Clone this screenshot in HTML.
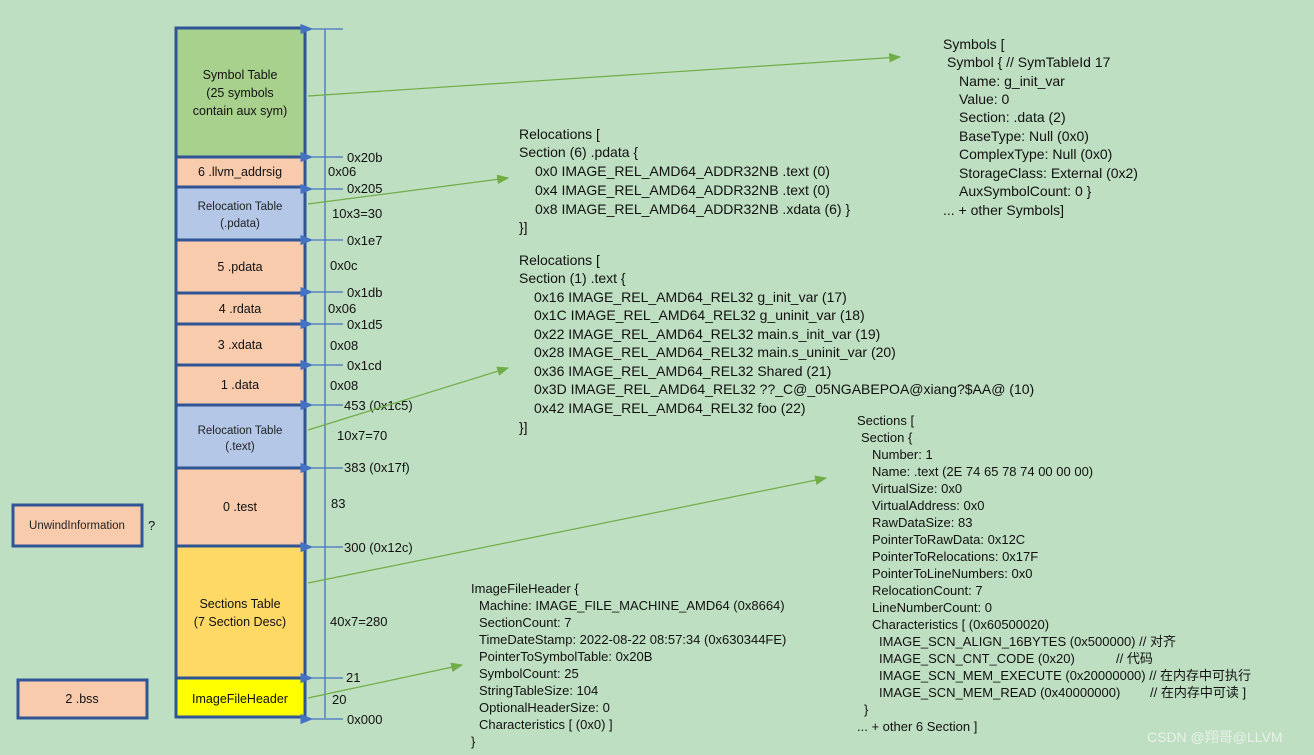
<!DOCTYPE html>
<html><head><meta charset="utf-8"><style>
html,body{margin:0;padding:0;background:#bfdfc2;}
svg{display:block;font-family:"Liberation Sans","Noto Sans CJK SC",sans-serif;}
.b{font-size:12.5px;fill:#111;text-anchor:middle}
.s{font-size:11.5px;fill:#222;text-anchor:middle}
.l{font-size:13px;fill:#111}
.t{font-size:14px;fill:#111}
.u{font-size:13px;fill:#111}
</style></head><body>
<svg width="1314" height="755" viewBox="0 0 1314 755" xmlns="http://www.w3.org/2000/svg">
<defs>
<marker id="ab" markerWidth="10" markerHeight="8" refX="1" refY="4" orient="auto"><path d="M10,0 L0,4 L10,8 z" fill="#4472c4"/></marker>
<marker id="ag" markerWidth="10" markerHeight="8" refX="9" refY="4" orient="auto"><path d="M0,0 L10,4 L0,8 z" fill="#70ad47"/></marker>
</defs>
<rect width="1314" height="755" fill="#bfdfc2"/>
<g stroke="#2f5597" stroke-width="3">
<rect x="176" y="28" width="129" height="129" fill="#a9d18e"/>
<rect x="176" y="157" width="129" height="30" fill="#f8cbad"/>
<rect x="176" y="187" width="129" height="53" fill="#b4c7e7"/>
<rect x="176" y="240" width="129" height="53" fill="#f8cbad"/>
<rect x="176" y="293" width="129" height="31" fill="#f8cbad"/>
<rect x="176" y="324" width="129" height="41" fill="#f8cbad"/>
<rect x="176" y="365" width="129" height="40" fill="#f8cbad"/>
<rect x="176" y="405" width="129" height="63" fill="#b4c7e7"/>
<rect x="176" y="468" width="129" height="78" fill="#f8cbad"/>
<rect x="176" y="546" width="129" height="132" fill="#ffd966"/>
<rect x="176" y="678" width="129" height="39" fill="#ffff00"/>
<rect x="13" y="505" width="129" height="41" fill="#f8cbad"/>
<rect x="18" y="680" width="129" height="38" fill="#f8cbad"/>
</g>
<text class="b" x="240" y="79">Symbol Table</text>
<text class="b" x="240" y="97">(25 symbols</text>
<text class="b" x="240" y="115">contain aux sym)</text>
<text class="b" x="240" y="176">6 .llvm_addrsig</text>
<text class="s" x="240" y="210">Relocation Table</text>
<text class="s" x="240" y="227">(.pdata)</text>
<text class="b" x="240" y="271">5 .pdata</text>
<text class="b" x="240" y="313">4 .rdata</text>
<text class="b" x="240" y="349">3 .xdata</text>
<text class="b" x="240" y="389">1 .data</text>
<text class="s" x="240" y="434">Relocation Table</text>
<text class="s" x="240" y="450">(.text)</text>
<text class="b" x="240" y="511">0 .test</text>
<text class="b" x="240" y="608">Sections Table</text>
<text class="b" x="240" y="626">(7 Section Desc)</text>
<text class="b" x="240" y="703">ImageFileHeader</text>
<text class="s" x="77" y="529">UnwindInformation</text>
<text class="l" x="148" y="530">?</text>
<text class="b" x="82" y="703">2 .bss</text>
<line x1="325" y1="29" x2="325" y2="718" stroke="#4472c4" stroke-width="1.3"/>
<g stroke="#4472c4" stroke-width="1.3" marker-end="url(#ab)">
<line x1="343" y1="29" x2="312" y2="29"/>
<line x1="343" y1="157" x2="312" y2="157"/>
<line x1="343" y1="189" x2="312" y2="189"/>
<line x1="343" y1="240" x2="312" y2="240"/>
<line x1="343" y1="292" x2="312" y2="292"/>
<line x1="343" y1="324" x2="312" y2="324"/>
<line x1="343" y1="365" x2="312" y2="365"/>
<line x1="343" y1="405" x2="312" y2="405"/>
<line x1="343" y1="468" x2="312" y2="468"/>
<line x1="343" y1="547" x2="312" y2="547"/>
<line x1="343" y1="678" x2="312" y2="678"/>
<line x1="343" y1="719" x2="312" y2="719"/>
</g>
<g class="l">
<text class="l" x="347" y="162">0x20b</text>
<text class="l" x="328" y="176">0x06</text>
<text class="l" x="347" y="193">0x205</text>
<text class="l" x="332" y="218">10x3=30</text>
<text class="l" x="347" y="245">0x1e7</text>
<text class="l" x="330" y="270">0x0c</text>
<text class="l" x="347" y="297">0x1db</text>
<text class="l" x="328" y="313">0x06</text>
<text class="l" x="347" y="329">0x1d5</text>
<text class="l" x="330" y="350">0x08</text>
<text class="l" x="347" y="370">0x1cd</text>
<text class="l" x="330" y="390">0x08</text>
<text class="l" x="344" y="410">453 (0x1c5)</text>
<text class="l" x="337" y="440">10x7=70</text>
<text class="l" x="344" y="472">383 (0x17f)</text>
<text class="l" x="331" y="508">83</text>
<text class="l" x="344" y="552">300 (0x12c)</text>
<text class="l" x="330" y="626">40x7=280</text>
<text class="l" x="346" y="682">21</text>
<text class="l" x="332" y="704">20</text>
<text class="l" x="347" y="724">0x000</text>
</g>
<g stroke="#70ad47" stroke-width="1.2" marker-end="url(#ag)">
<line x1="308" y1="96" x2="900" y2="57"/>
<line x1="308" y1="204" x2="508" y2="178"/>
<line x1="308" y1="430" x2="508" y2="368"/>
<line x1="308" y1="583" x2="826" y2="478"/>
<line x1="308" y1="698" x2="462" y2="665"/>
</g>
<g class="t">
<text x="943" y="49">Symbols [</text>
<text x="947" y="67">Symbol {              // SymTableId 17</text>
<text x="959" y="86">Name: g_init_var</text>
<text x="959" y="104">Value: 0</text>
<text x="959" y="122">Section: .data (2)</text>
<text x="959" y="141">BaseType: Null (0x0)</text>
<text x="959" y="159">ComplexType: Null (0x0)</text>
<text x="959" y="178">StorageClass: External (0x2)</text>
<text x="959" y="196">AuxSymbolCount: 0  }</text>
<text x="943" y="215">... + other Symbols]</text>
</g>
<g class="t">
<text x="519" y="139">Relocations [</text>
<text x="519" y="157">Section (6) .pdata {</text>
<text x="535" y="176">0x0 IMAGE_REL_AMD64_ADDR32NB .text (0)</text>
<text x="535" y="195">0x4 IMAGE_REL_AMD64_ADDR32NB .text (0)</text>
<text x="535" y="214">0x8 IMAGE_REL_AMD64_ADDR32NB .xdata (6)  }</text>
<text x="519" y="232">}]</text>
</g>
<g class="t">
<text x="519" y="265">Relocations [</text>
<text x="519" y="283">Section (1) .text {</text>
<text x="534" y="302">0x16 IMAGE_REL_AMD64_REL32 g_init_var (17)</text>
<text x="534" y="320">0x1C IMAGE_REL_AMD64_REL32 g_uninit_var (18)</text>
<text x="534" y="339">0x22 IMAGE_REL_AMD64_REL32 main.s_init_var (19)</text>
<text x="534" y="357">0x28 IMAGE_REL_AMD64_REL32 main.s_uninit_var (20)</text>
<text x="534" y="376">0x36 IMAGE_REL_AMD64_REL32 Shared (21)</text>
<text x="534" y="394">0x3D IMAGE_REL_AMD64_REL32 ??_C@_05NGABEPOA@xiang?$AA@ (10)</text>
<text x="534" y="413">0x42 IMAGE_REL_AMD64_REL32 foo (22)</text>
<text x="519" y="432">}]</text>
</g>
<g class="u">
<text x="857" y="425">Sections [</text>
<text x="861" y="442">Section {</text>
<text x="872" y="459">Number: 1</text>
<text x="872" y="476">Name: .text (2E 74 65 78 74 00 00 00)</text>
<text x="872" y="493">VirtualSize: 0x0</text>
<text x="872" y="510">VirtualAddress: 0x0</text>
<text x="872" y="527">RawDataSize: 83</text>
<text x="872" y="544">PointerToRawData: 0x12C</text>
<text x="872" y="561">PointerToRelocations: 0x17F</text>
<text x="872" y="578">PointerToLineNumbers: 0x0</text>
<text x="872" y="595">RelocationCount: 7</text>
<text x="872" y="612">LineNumberCount: 0</text>
<text x="872" y="629">Characteristics [ (0x60500020)</text>
<text x="879" y="646">IMAGE_SCN_ALIGN_16BYTES (0x500000)  // 对齐</text>
<text x="879" y="663">IMAGE_SCN_CNT_CODE (0x20)</text><text x="1116" y="663">// 代码</text>
<text x="879" y="680">IMAGE_SCN_MEM_EXECUTE (0x20000000)  // 在内存中可执行</text>
<text x="879" y="697">IMAGE_SCN_MEM_READ (0x40000000)</text><text x="1150" y="697">// 在内存中可读    ]</text>
<text x="864" y="714">}</text>
<text x="857" y="731">... + other 6 Section ]</text>
</g>
<g class="u">
<text x="471" y="593">ImageFileHeader {</text>
<text x="479" y="610">Machine: IMAGE_FILE_MACHINE_AMD64 (0x8664)</text>
<text x="479" y="627">SectionCount: 7</text>
<text x="479" y="644">TimeDateStamp: 2022-08-22 08:57:34 (0x630344FE)</text>
<text x="479" y="661">PointerToSymbolTable: 0x20B</text>
<text x="479" y="678">SymbolCount: 25</text>
<text x="479" y="695">StringTableSize: 104</text>
<text x="479" y="712">OptionalHeaderSize: 0</text>
<text x="479" y="729">Characteristics [ (0x0)  ]</text>
<text x="471" y="746">}</text>
</g>
<text x="1147" y="742" style="font-size:14px;fill:#e8f1ea">CSDN @翔哥@LLVM</text>
</svg>
</body></html>
